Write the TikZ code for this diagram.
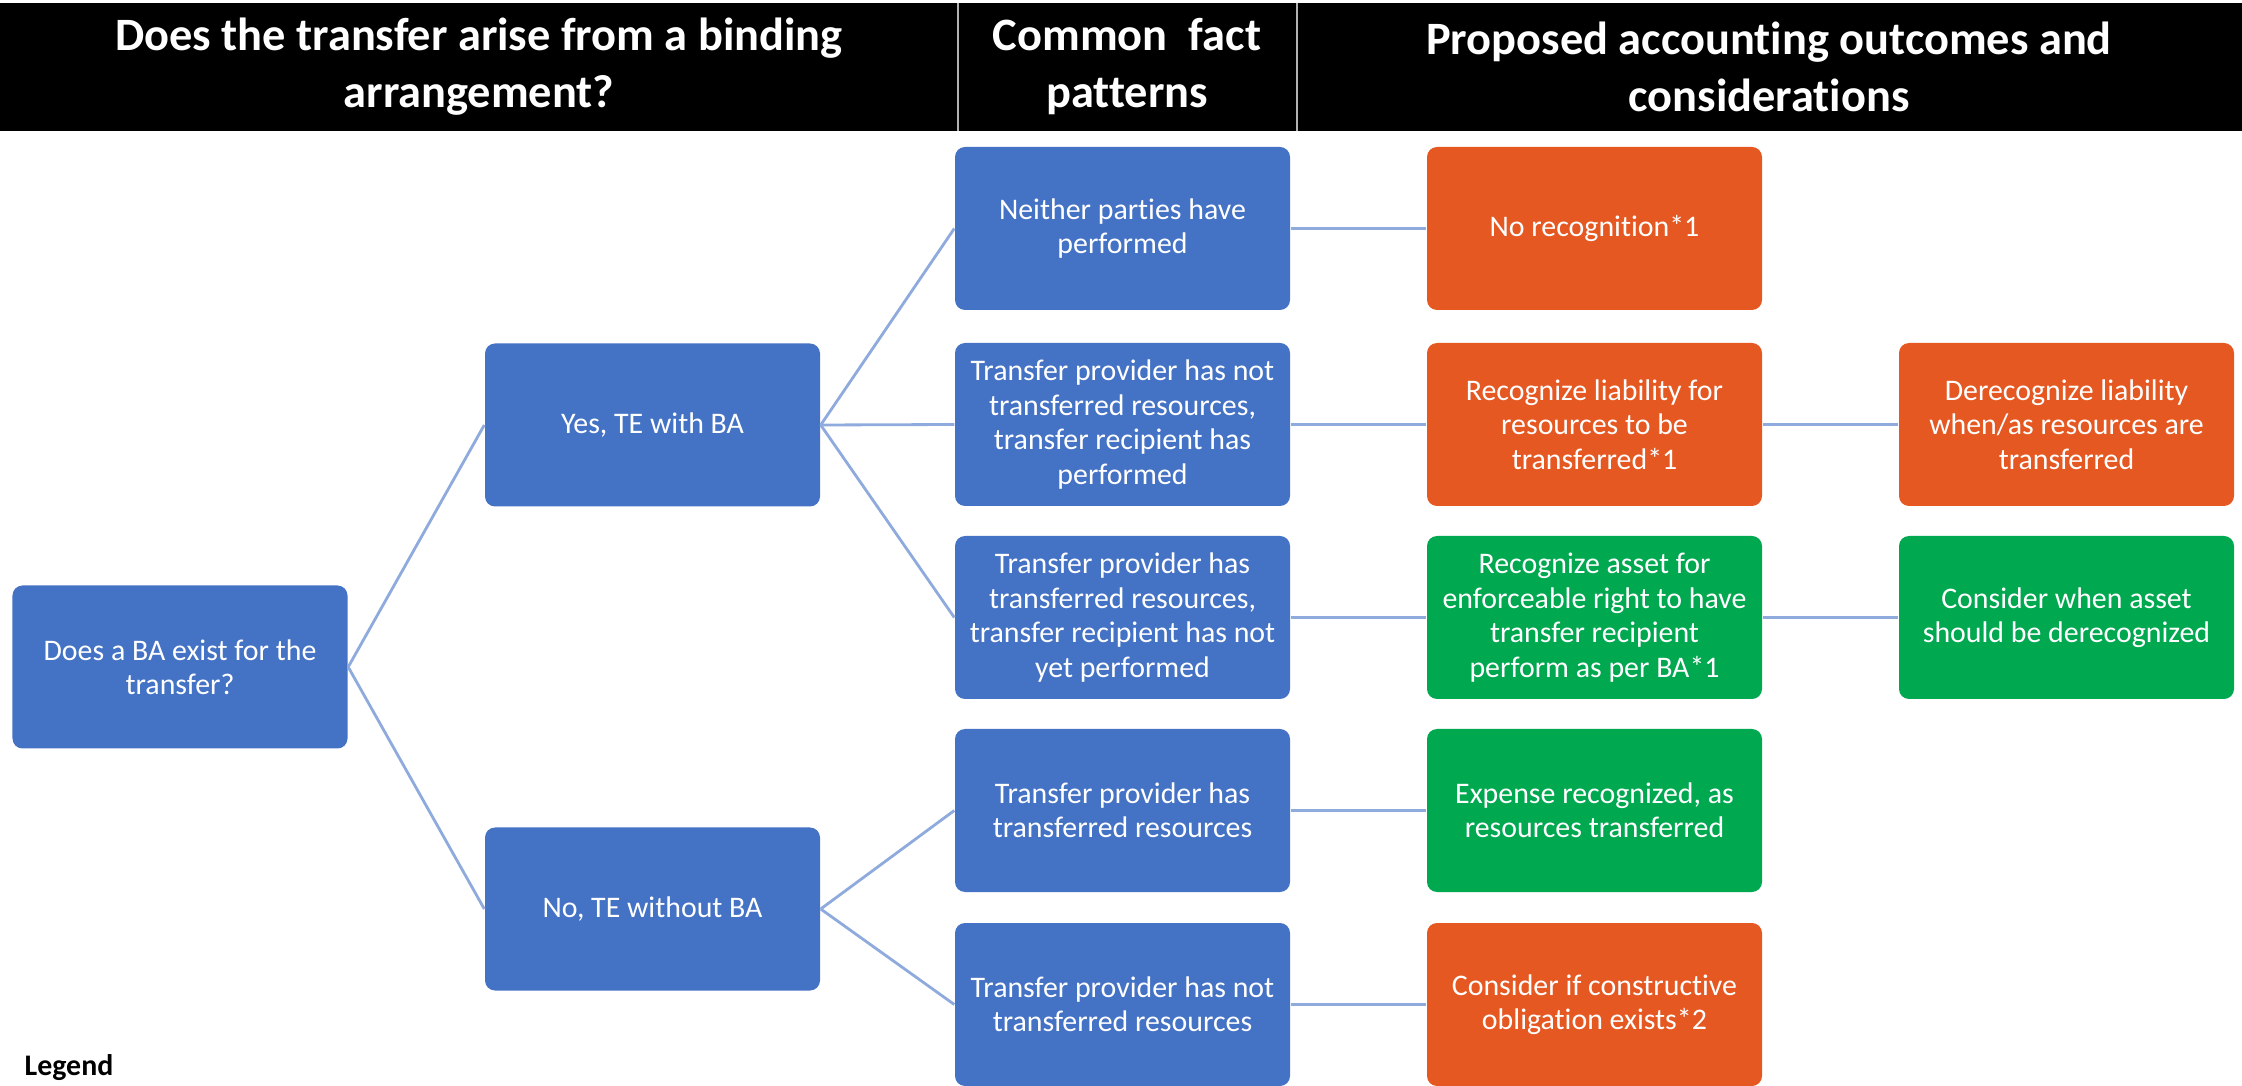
\documentclass[tikz,border=0pt]{standalone}
\usepackage{fontspec}
\setmainfont[Ligatures=NoCommon]{Carlito}
\usepackage{tikz}
\usetikzlibrary{positioning,calc}
\definecolor{boxBlue}{RGB}{68,114,196}
\definecolor{boxOrange}{RGB}{229,88,34}
\definecolor{boxGreen}{RGB}{0,168,80}
\definecolor{linkBlue}{RGB}{143,170,220}

\begin{document}
\begin{tikzpicture}[
      x=1cm, y=1cm,
      every node/.style={align=center, inner sep=0pt},
      box/.style={rounded corners=0.1cm, minimum width=3.35cm, minimum height=1.63cm,
        text=white, font=\fontsize{8.5}{9.8}\selectfont},
      bluebox/.style={box, fill=boxBlue},
      orangebox/.style={box, fill=boxOrange},
      greenbox/.style={box, fill=boxGreen},
      header/.style={text=white, font=\fontsize{13.2}{16.2}\selectfont\bfseries},
      link/.style={draw=linkBlue, line width=0.8pt}
    ]
      \useasboundingbox (0,0) rectangle (22.42,-10.86);
      % header bar
      \fill[black] (0,-0.03) rectangle (22.42,-1.31);
      \draw[gray!60, line width=0.6pt] (9.58,-0.03) -- (9.58,-1.31);
      \draw[gray!60, line width=0.6pt] (12.97,-0.03) -- (12.97,-1.31);
      \node[header] (hBA) at (4.79,-0.67) {Does the transfer arise from a binding\\arrangement?};
      \node[header] (hFact) at (11.27,-0.67) {Common~ fact\\patterns};
      \node[header] (hOut) at (17.69,-0.67) {Proposed accounting outcomes and\\considerations};

      % first two levels
      \node[bluebox] (root) at (1.80,-6.67) {Does a BA exist for the\\transfer?};
      \node[bluebox] (yes) at (6.525,-4.25) {Yes, TE with BA};
      \node[bluebox] (no) at (6.525,-9.09) {No, TE without BA};

      % fact patterns
      \node[bluebox] (fact1) at (11.225,-2.285) {Neither parties have\\performed};
      \node[bluebox] (fact2) at (11.225,-4.245) {Transfer provider has not\\transferred resources,\\transfer recipient has\\performed};
      \node[bluebox] (fact3) at (11.225,-6.175) {Transfer provider has\\transferred resources,\\transfer recipient has not\\yet performed};
      \node[bluebox] (fact4) at (11.225,-8.105) {Transfer provider has\\transferred resources};
      \node[bluebox] (fact5) at (11.225,-10.045) {Transfer provider has not\\transferred resources};

      % outcomes
      \node[orangebox] (out1) at (15.945,-2.285) {No recognition*1};
      \node[orangebox] (out2) at (15.945,-4.245) {Recognize liability for\\resources to be\\transferred*1};
      \node[greenbox] (out3) at (15.945,-6.175) {Recognize asset for\\enforceable right to have\\transfer recipient\\perform as per BA*1};
      \node[greenbox] (out4) at (15.945,-8.105) {Expense recognized, as\\resources transferred};
      \node[orangebox] (out5) at (15.945,-10.045) {Consider if constructive\\obligation exists*2};

      % considerations
      \node[orangebox] (next2) at (20.665,-4.245) {Derecognize liability\\when/as resources are\\transferred};
      \node[greenbox] (next3) at (20.665,-6.175) {Consider when asset\\should be derecognized};

      \node[font=\fontsize{8.5}{9.8}\selectfont\bfseries, anchor=west] (legend) at (0.24,-10.68) {Legend};

      % connectors
      \draw[link] (root.east) -- (yes.west);
      \draw[link] (root.east) -- (no.west);
      \foreach \f in {fact1,fact2,fact3}
        \draw[link] (yes.east) -- (\f.west);
      \foreach \f in {fact4,fact5}
        \draw[link] (no.east) -- (\f.west);
      \foreach \i in {1,...,5}
        \draw[link] (fact\i.east) -- (out\i.west);
      \draw[link] (out2.east) -- (next2.west);
      \draw[link] (out3.east) -- (next3.west);
    \end{tikzpicture}
\end{document}
